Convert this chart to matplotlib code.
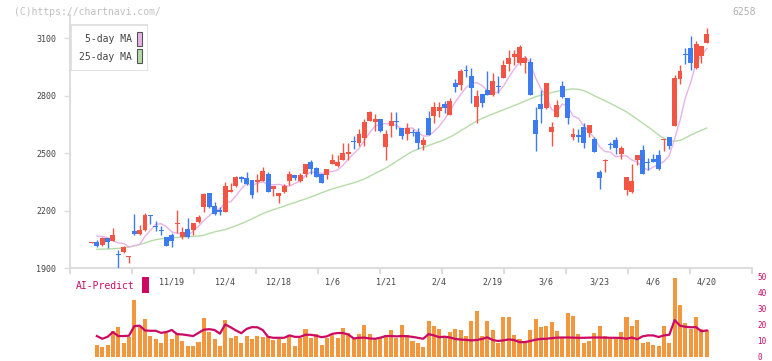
import numpy as np
import matplotlib
matplotlib.use("Agg")
import matplotlib.pyplot as plt
from matplotlib.patches import Rectangle

# ---------------- data ----------------
opens = [2034,2037,2023,2058,2042,1973,1987,1957,2095,2081,2100,2175,2120,2099,2062,2074,2131,2062,2103,2098,
         2142,2220,2291,2225,2204,2195,2300,2329,2376,2370,2361,2352,2357,2392,2314,2279,2300,2357,2387,2355,
         2392,2456,2422,2392,2387,2444,2433,2465,2498,2562,2555,2581,2670,2665,2678,2535,2644,2667,2630,2599,
         2609,2610,2543,2683,2694,2721,2755,2700,2865,2856,2932,2903,2743,2809,2830,2804,2849,2894,2964,3000,
         2973,2969,2975,2673,2757,2735,2613,2691,2851,2790,2583,2595,2639,2604,2575,2401,2458,2545,2569,2495,
         2309,2300,2465,2517,2450,2470,2491,2572,2583,2644,2886,3016,3051,2947,3009,3077]
highs = [2038,2047,2062,2060,2110,1995,2016,1966,2183,2126,2190,2176,2147,2121,2062,2084,2204,2114,2162,2137,
         2178,2294,2295,2247,2221,2350,2347,2384,2384,2404,2361,2390,2430,2404,2329,2294,2340,2410,2387,2397,
         2444,2465,2430,2392,2418,2495,2490,2552,2552,2590,2626,2680,2722,2704,2678,2620,2715,2715,2630,2657,
         2625,2630,2584,2720,2767,2767,2775,2790,2890,2940,2960,2945,2830,2809,2930,2920,2903,2987,3039,3040,
         3065,3010,2995,2740,2830,2865,2665,2777,2877,2790,2631,2626,2657,2648,2587,2412,2470,2560,2584,2540,
         2375,2445,2491,2543,2475,2496,2517,2576,2583,2910,2960,3050,3112,3085,3061,3154]
lows = [2032,2011,2018,2007,2040,1898,1980,1926,2075,2074,2095,2131,2096,2075,2016,2010,2084,2053,2060,2074,
        2137,2194,2215,2178,2178,2195,2300,2325,2350,2335,2265,2300,2357,2300,2277,2240,2294,2336,2360,2350,
        2376,2392,2378,2347,2366,2444,2427,2465,2465,2522,2537,2536,2670,2618,2610,2464,2585,2625,2575,2570,
        2590,2520,2518,2595,2660,2690,2710,2700,2818,2830,2900,2764,2660,2743,2804,2799,2815,2894,2930,2960,
        2960,2917,2804,2511,2660,2730,2540,2691,2791,2652,2568,2560,2530,2583,2508,2312,2401,2521,2495,2468,
        2281,2295,2437,2392,2412,2456,2412,2512,2520,2644,2860,2966,2935,2938,2970,3077]
closes = [2036,2018,2058,2039,2074,1970,2010,1964,2077,2100,2178,2172,2118,2097,2018,2044,2138,2090,2062,2135,
          2169,2288,2218,2183,2195,2331,2308,2375,2364,2338,2282,2361,2408,2300,2329,2294,2329,2392,2371,2387,
          2444,2418,2378,2347,2418,2465,2456,2503,2508,2558,2600,2662,2714,2678,2618,2600,2668,2663,2592,2630,
          2605,2555,2569,2595,2743,2743,2738,2773,2847,2930,2928,2842,2799,2764,2804,2877,2847,2960,2995,3018,
          3053,2995,2804,2600,2731,2865,2639,2752,2796,2683,2600,2583,2555,2648,2508,2371,2462,2541,2529,2526,
          2375,2355,2491,2392,2448,2456,2418,2576,2540,2891,2929,3014,2969,3069,3061,3122]
ma5 = [np.nan,2068,2066,2060,2045,2032,2030,2011,2019,2024,2066,2098,2129,2133,2117,2090,2083,2077,2070,2094,
       2119,2149,2174,2199,2211,2243,2247,2278,2315,2343,2333,2344,2351,2338,2336,2338,2332,2329,2343,2355,
       2385,2402,2400,2395,2401,2405,2413,2438,2470,2498,2525,2566,2608,2642,2654,2654,2656,2645,2628,2631,
       2632,2609,2590,2591,2613,2641,2678,2718,2769,2806,2843,2864,2869,2853,2827,2817,2818,2850,2897,2939,
       2975,3004,2973,2894,2837,2799,2728,2717,2757,2747,2694,2683,2643,2614,2579,2533,2509,2506,2482,2486,
       2487,2465,2455,2428,2412,2428,2441,2458,2488,2576,2671,2790,2869,2974,3008,3047]
ma25 = [np.nan,1999,2000,2001,2002,2004,2007,2011,2017,2024,2032,2042,2049,2054,2057,2059,2061,2063,2065,2067,
        2068,2072,2082,2090,2096,2102,2112,2122,2133,2145,2158,2172,2185,2196,2206,2215,2224,2234,2243,2253,
        2262,2272,2283,2294,2304,2314,2322,2330,2338,2346,2355,2366,2380,2395,2409,2423,2440,2458,2476,2494,
        2510,2521,2531,2541,2551,2561,2572,2585,2600,2618,2634,2652,2668,2682,2694,2705,2716,2727,2738,2749,
        2760,2772,2784,2795,2803,2810,2817,2823,2829,2833,2836,2834,2827,2815,2800,2787,2774,2760,2746,2731,
        2716,2697,2678,2658,2638,2618,2595,2578,2566,2563,2567,2580,2595,2608,2620,2632]
volume = [np.nan,7.5,5.9,7.5,16.3,18.8,8.4,12.1,35.8,18.6,23.8,13.2,10.9,8.8,14.9,10.9,14.2,10.0,6.9,6.9,
          9.4,24.5,15.5,10.9,6.9,23.2,11.9,13.2,8.8,13.2,10.9,13.2,12.3,13.0,10.3,11.3,8.8,13.4,6.9,11.5,
          17.2,11.5,14.2,7.5,11.5,13.8,11.5,18.0,14.9,10.9,14.4,20.1,14.4,11.5,12.6,13.8,16.5,12.0,20.1,13.4,
          10.0,8.8,6.3,22.6,19.5,17.6,13.2,15.7,17.6,16.9,13.2,22.6,28.9,13.2,22.6,16.9,8.8,25.1,25.1,13.8,
          11.3,10.0,16.9,23.8,18.8,19.5,22.0,16.3,11.5,27.6,25.7,14.4,8.8,10.0,15.1,19.5,13.2,11.3,11.3,15.7,
          25.1,19.5,23.2,8.8,9.4,7.5,6.9,19.5,8.8,49.6,32.6,21.3,17.6,25.1,17.6,16.9]
ai_predict = [np.nan,13.0,11.3,12.5,15.5,13.0,13.0,13.2,19.2,19.5,16.5,16.3,16.3,15.0,15.5,16.8,14.2,14.0,13.5,13.0,
              15.0,17.0,17.3,16.8,14.5,20.3,18.5,16.5,14.8,17.5,18.6,18.5,16.8,12.5,11.9,11.9,11.9,13.4,12.5,12.5,
              13.8,13.8,13.2,12.3,12.8,14.4,14.9,14.9,14.0,11.5,11.9,12.0,11.5,11.3,12.0,13.0,13.0,12.8,13.0,12.9,
              12.5,11.9,11.3,14.2,13.4,12.3,12.6,12.1,11.2,10.8,10.6,10.3,10.5,11.2,12.2,10.5,9.9,10.3,10.9,10.5,
              9.2,9.2,9.9,10.7,11.2,11.3,11.7,12.0,12.1,12.1,12.0,11.9,11.9,12.0,12.1,12.1,12.0,11.9,11.9,11.8,
              11.3,12.1,11.0,12.8,13.4,13.4,12.4,13.4,13.8,23.0,19.5,18.8,18.5,18.6,16.0,16.5]
date_labels = ["11/19","12/4","12/18","1/6","1/21","2/4","2/19","3/6","3/23","4/6","4/20"]
date_label_idx = [15,25,35,45,55,65,75,85,95,105,115]
y_ticks = [1900,2200,2500,2800,3100]
vol_ticks = [0,10,20,30,40,50]

# ---------------- style ----------------
W, H = 772, 361
RED = "#f25543"
BLUE = "#3d7bf0"
PINK = "#e9b3e9"
GREEN = "#b5dca8"
ORANGE = "#f2973e"
CRIMSON = "#cc0a64"
GRID = "#dddddd"
MONO = "DejaVu Sans Mono"

fig = plt.figure(figsize=(W/100, H/100), dpi=100)

def fx(px): return px / W
def fy(py): return 1 - py / H

# pixel mapping: x = 91.5 + 5.35*i
x0_px, dx_px = 91.5, 5.35
left_px, right_px = 70, 752
xlim = ((left_px - x0_px)/dx_px, (right_px - x0_px)/dx_px)

top_px, bot_px = 15, 268.3
ppu = 230/1200.0
ylim = (1900, 1900 + (bot_px - top_px)/ppu)

# volume / AI panel (created first so that it stays beneath the labels)
v_top, v_bot = 277.0, 356.8
axv = fig.add_axes([fx(left_px), fy(v_bot), (right_px-left_px)/W, (v_bot-v_top)/H])
axv.patch.set_visible(False)
axv.set_xlim(*xlim)
axv.set_ylim(0, 50)
for s in axv.spines.values():
    s.set_visible(False)

ax = fig.add_axes([fx(left_px), fy(bot_px), (right_px-left_px)/W, (bot_px-top_px)/H])
ax.patch.set_visible(False)
ax.set_xlim(*xlim)
ax.set_ylim(*ylim)
for s in ["top", "right"]:
    ax.spines[s].set_visible(False)
for s in ["left", "bottom"]:
    ax.spines[s].set_color(GRID)
    ax.spines[s].set_linewidth(1.5)

n = len(closes)
idx = np.arange(n)
o = np.array(opens, float); c = np.array(closes, float)
h = np.array(highs, float); l = np.array(lows, float)
up = c >= o
cols = np.where(up, RED, BLUE)

ax.plot(idx, ma25, color=GREEN, lw=1.0, zorder=2)
ax.plot(idx, ma5, color=PINK, lw=1.0, zorder=2)

ax.vlines(idx, l, h, colors=cols, lw=1.0, zorder=3)
bottoms = np.minimum(o, c)
heights = np.maximum(np.abs(c - o), 5.0)
ax.bar(idx, heights, bottom=bottoms, width=0.92, color=cols, linewidth=0, zorder=4)

# x tick marks (no labels) every 62 px
tick_px = np.arange(70, 753, 62)
ax.set_xticks([(p - x0_px)/dx_px for p in tick_px])
ax.set_xticklabels([])
ax.tick_params(axis="x", length=4, width=1.5, color=GRID)
ax.set_yticks(y_ticks)
ax.set_yticklabels([str(v) for v in y_ticks], fontfamily=MONO, fontsize=6, color="#444444")
ax.tick_params(axis="y", length=4, width=1.0, color=GRID, pad=6)

# date labels
for i, lab in zip(date_label_idx, date_labels):
    ax.text(i, -(282.3 - bot_px)/(bot_px - top_px), lab, transform=ax.get_xaxis_transform(),
            ha="center", va="center", fontfamily=MONO, fontsize=6, color="#444444",
            clip_on=False, zorder=10)

# legend box
leg_ax = fig.add_axes([fx(70), fy(71), 78/W, 47/H])
leg_ax.set_xlim(0, 78); leg_ax.set_ylim(47, 0)
leg_ax.axis("off")
leg_ax.add_patch(Rectangle((0.5, 0.5), 77, 46, facecolor="white", edgecolor=GRID, lw=1.2))
leg_ax.text(62, 15, "5-day MA", ha="right", va="center", fontfamily=MONO, fontsize=7, color="#444444")
leg_ax.text(62, 33, "25-day MA", ha="right", va="center", fontfamily=MONO, fontsize=7, color="#444444")
leg_ax.add_patch(Rectangle((67, 8), 5, 14, facecolor=PINK, edgecolor="#555555", lw=0.8))
leg_ax.add_patch(Rectangle((67, 25), 5, 14, facecolor=GREEN, edgecolor="#555555", lw=0.8))

# header texts
fig.text(fx(14), fy(12), "(C)https://chartnavi.com/", ha="left", va="center",
         fontfamily=MONO, fontsize=7, color="#c0c0c0")
fig.text(fx(756), fy(12), "6258", ha="right", va="center", fontfamily=MONO, fontsize=7, color="#b0b0b0")

# AI-Predict label
fig.text(fx(76), fy(286), "AI-Predict", ha="left", va="center", fontfamily=MONO, fontsize=7, color=CRIMSON)
fig.patches.append(Rectangle((fx(142.3), fy(292.7)), 6.4/W, 16/H, transform=fig.transFigure,
                             facecolor=CRIMSON, edgecolor="none"))

# volume bars and AI line
axv.bar(idx, volume, width=0.75, color=ORANGE, linewidth=0, zorder=2)
axv.plot(idx, ai_predict, color=CRIMSON, lw=1.6, zorder=3)
axv.set_xticks([])
axv.yaxis.tick_right()
axv.set_yticks(vol_ticks)
axv.set_yticklabels([str(v) for v in vol_ticks], fontfamily=MONO, fontsize=5.5, color=CRIMSON)
axv.tick_params(axis="y", length=0, pad=4)

fig.savefig("out.png", dpi=100)
